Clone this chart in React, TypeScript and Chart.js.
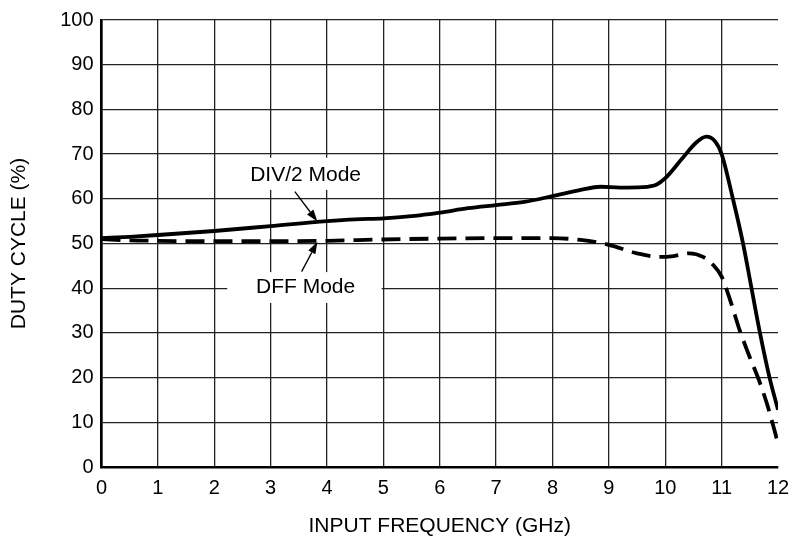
import React, { useEffect, useRef } from 'react';
import { Chart, registerables } from 'chart.js';

Chart.register(...registerables);

// ---- data ----
const freqDiv2 = [0, 0.5, 1, 2, 3, 4, 4.5, 5, 5.5, 6, 6.5, 7, 7.5, 8, 8.5, 8.85, 9.2, 9.6, 9.85, 10.0, 10.3, 10.55, 10.73, 10.88, 11.0, 11.2, 11.38, 11.53, 11.68, 11.85, 12];
const dutyDiv2 = [51.2, 51.5, 51.9, 52.8, 53.9, 55.0, 55.4, 55.6, 56.1, 56.9, 57.9, 58.6, 59.3, 60.6, 62.0, 62.7, 62.5, 62.6, 63.2, 64.6, 69.0, 72.6, 73.9, 72.9, 70.0, 60.0, 50.0, 40.0, 30.0, 20.0, 12.8];

const freqDff = [0, 0.5, 1, 2, 3, 4, 5, 6, 7, 8, 8.5, 9, 9.5, 9.9, 10.15, 10.43, 10.67, 10.85, 11.0, 11.15, 11.32, 11.47, 11.68, 11.82, 12];
const dutyDff = [51.0, 50.7, 50.6, 50.5, 50.5, 50.6, 50.9, 51.1, 51.2, 51.2, 50.8, 49.7, 47.8, 47.0, 47.2, 47.8, 47.0, 45.2, 42.6, 37.4, 30.6, 25.5, 18.8, 13.5, 5.3];

const xTickValues = [0, 1, 2, 3, 4, 5, 6, 7, 8, 9, 10, 11, 12];
const yTickValues = [0, 10, 20, 30, 40, 50, 60, 70, 80, 90, 100];

const labelDiv2 = 'DIV/2 Mode';
const labelDff = 'DFF Mode';
const xTitle = 'INPUT FREQUENCY (GHz)';
const yTitle = 'DUTY CYCLE (%)';

const FONT = '"Liberation Sans", Arial, Helvetica, sans-serif';

// annotation placement (data units)
const annotations = [
  { text: labelDiv2, cx: 3.62, cy: 65.3, box: [2.4, 62.0, 4.9, 69.2], from: [3.43, 61.6], to: [3.83, 54.9] },
  { text: labelDff, cx: 3.62, cy: 40.3, box: [2.23, 36.7, 4.97, 43.6], from: [3.55, 43.7], to: [3.83, 50.4] },
];

const annotationPlugin = {
  id: 'modeLabels',
  afterDatasetsDraw(chart: any) {
    const { ctx, scales } = chart;
    const xs = scales.x;
    const ys = scales.y;
    ctx.save();
    for (const a of annotations) {
      const x1 = xs.getPixelForValue(a.box[0]);
      const x2 = xs.getPixelForValue(a.box[2]);
      const y1 = ys.getPixelForValue(a.box[3]);
      const y2 = ys.getPixelForValue(a.box[1]);
      ctx.fillStyle = '#fff';
      ctx.fillRect(x1, y1, x2 - x1, y2 - y1);
      ctx.fillStyle = '#000';
      ctx.font = `21px ${FONT}`;
      ctx.textAlign = 'center';
      ctx.textBaseline = 'middle';
      ctx.fillText(a.text, xs.getPixelForValue(a.cx), ys.getPixelForValue(a.cy));
      // arrow
      const fx = xs.getPixelForValue(a.from[0]);
      const fy = ys.getPixelForValue(a.from[1]);
      const tx = xs.getPixelForValue(a.to[0]);
      const ty = ys.getPixelForValue(a.to[1]);
      const ang = Math.atan2(ty - fy, tx - fx);
      const headLen = 12;
      const headHalf = 4;
      const bx = tx - headLen * Math.cos(ang);
      const by = ty - headLen * Math.sin(ang);
      ctx.strokeStyle = '#000';
      ctx.lineWidth = 1.3;
      ctx.beginPath();
      ctx.moveTo(fx, fy);
      ctx.lineTo(bx, by);
      ctx.stroke();
      ctx.beginPath();
      ctx.moveTo(tx, ty);
      ctx.lineTo(bx + headHalf * Math.sin(ang), by - headHalf * Math.cos(ang));
      ctx.lineTo(bx - headHalf * Math.sin(ang), by + headHalf * Math.cos(ang));
      ctx.closePath();
      ctx.fill();
    }
    ctx.restore();
  },
};

export default function App() {
  const ref = useRef<HTMLCanvasElement | null>(null);

  useEffect(() => {
    if (!ref.current) return;
    const chart = new Chart(ref.current, {
      type: 'line',
      data: {
        datasets: [
          {
            label: labelDiv2,
            data: freqDiv2.map((x, i) => ({ x, y: dutyDiv2[i] })),
            borderColor: '#000',
            borderWidth: 3.8,
            pointRadius: 0,
            cubicInterpolationMode: 'monotone',
            fill: false,
          },
          {
            label: labelDff,
            data: freqDff.map((x, i) => ({ x, y: dutyDff[i] })),
            borderColor: '#000',
            borderWidth: 3.8,
            borderDash: [19, 9],
            pointRadius: 0,
            cubicInterpolationMode: 'monotone',
            fill: false,
          },
        ],
      },
      options: {
        animation: false,
        responsive: false,
        layout: { padding: { left: 0, right: 17, top: 20, bottom: 0 } },
        plugins: { legend: { display: false }, tooltip: { enabled: false } },
        scales: {
          x: {
            type: 'linear',
            min: 0,
            max: 12,
            afterBuildTicks: (s: any) => { s.ticks = xTickValues.map((v) => ({ value: v })); },
            afterFit: (s: any) => { s.height = 79; s.paddingRight = 0; s.paddingLeft = 0; },
            grid: {
              color: (c: any) => (c.tick && c.tick.value === 12 ? 'rgba(0,0,0,0)' : '#222'),
              lineWidth: 1.3,
              drawTicks: false,
            },
            border: { display: true, color: '#000', width: 2.6 },
            ticks: { color: '#000', font: { family: FONT, size: 20 }, padding: 9, maxRotation: 0, autoSkip: false },
            title: { display: true, text: xTitle, color: '#000', font: { family: FONT, size: 21 }, padding: { top: 7, bottom: 7 } },
          },
          y: {
            type: 'linear',
            min: 0,
            max: 100,
            afterBuildTicks: (s: any) => { s.ticks = yTickValues.map((v) => ({ value: v })); },
            afterFit: (s: any) => { s.width = 101.5; s.paddingTop = 0; s.paddingBottom = 0; },
            grid: { color: '#222', lineWidth: 1.3, drawTicks: false },
            border: { display: true, color: '#000', width: 2.6 },
            ticks: { color: '#000', font: { family: FONT, size: 20 }, padding: 8, autoSkip: false },
            title: { display: true, text: yTitle, color: '#000', font: { family: FONT, size: 21 }, padding: { top: 7, bottom: 7 } },
          },
        },
      } as any,
      plugins: [annotationPlugin],
    });
    return () => chart.destroy();
  }, []);

  return (
    <div style={{ position: 'absolute', left: 0, top: 0, width: 795, height: 546, background: '#fff' }}>
      <canvas ref={ref} width={795} height={546} style={{ display: 'block', width: 795, height: 546 }} />
    </div>
  );
}
